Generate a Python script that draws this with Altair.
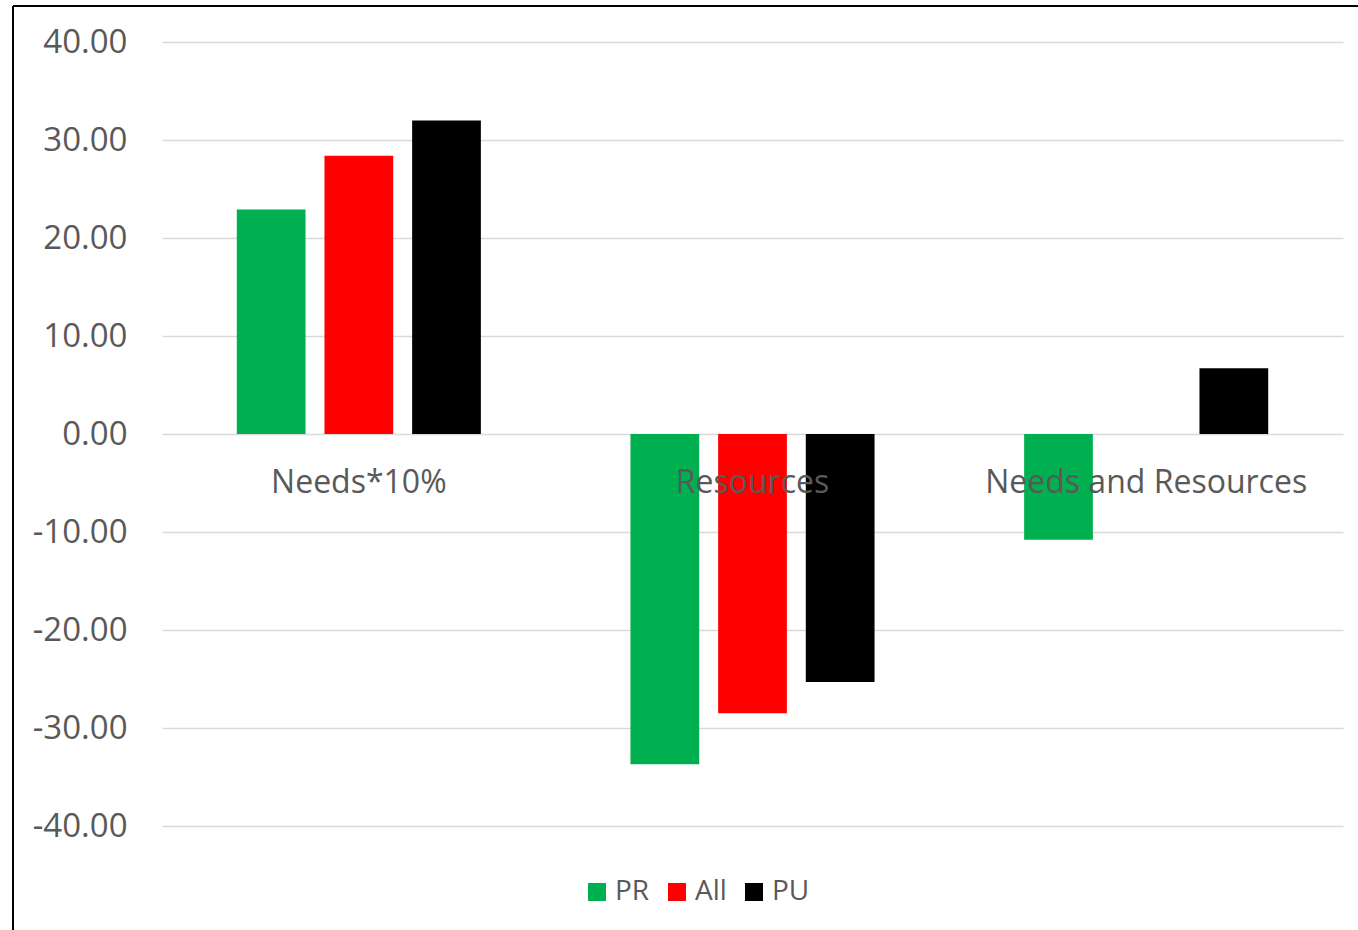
import altair as alt
import pandas as pd

categories = ["Needs*10%", "Resources", "Needs and Resources"]
series = ["PR", "All", "PU"]
colors = ["#00B050", "#FF0000", "#000000"]
pr_values = [22.9, -33.7, -10.8]
all_values = [28.4, -28.5, 0.0]
pu_values = [32.0, -25.3, 6.7]

rows = []
for s, vals in zip(series, [pr_values, all_values, pu_values]):
    for c, v in zip(categories, vals):
        rows.append({"category": c, "series": s, "value": v})
df = pd.DataFrame(rows)
labels_df = pd.DataFrame({"category": categories, "zero": [0.0] * len(categories)})

W, H = 1181, 784
PADL, PADT = 162, 42

x_enc = alt.X("category:N", sort=categories, axis=None,
              scale=alt.Scale(paddingInner=0.38, paddingOuter=0.19))

bars = alt.Chart(df).mark_bar().encode(
    x=x_enc,
    xOffset=alt.XOffset("series:N", sort=series, scale=alt.Scale(paddingInner=0.216)),
    y=alt.Y("value:Q", scale=alt.Scale(domain=[-40, 40]),
            axis=alt.Axis(values=[-40, -30, -20, -10, 0, 10, 20, 30, 40],
                          labelExpr="datum.value < 0 ? '-' + format(abs(datum.value), '.2f') : format(datum.value, '.2f')",
                          title=None, domain=False, ticks=False, labelPadding=35,
                          labelFontSize=33, labelFont="Open Sans", labelColor="#595959",
                          gridColor="#D9D9D9", gridWidth=1.5)),
    color=alt.Color("series:N", sort=series,
                    scale=alt.Scale(domain=series, range=colors),
                    legend=alt.Legend(title=None, orient="none", direction="horizontal",
                                      legendX=421, legendY=836, symbolType="square",
                                      symbolSize=324, symbolStrokeWidth=0,
                                      labelFontSize=28, labelFont="Open Sans",
                                      labelColor="#595959", labelOffset=4,
                                      columnPadding=13)),
)

texts = alt.Chart(labels_df).mark_text(
    fontSize=32, font="Open Sans", color="#595959", dy=49, baseline="middle"
).encode(
    x=x_enc,
    y=alt.Y("zero:Q"),
    text="category:N",
)

border_top = alt.Chart(labels_df).mark_rule(color="#000000", strokeWidth=2).encode(
    x=alt.value(13 - PADL), x2=alt.value(1358 - PADL), y=alt.value(6 - PADT)
)
border_left = alt.Chart(labels_df).mark_rule(color="#000000", strokeWidth=2).encode(
    x=alt.value(13 - PADL), y=alt.value(6 - PADT), y2=alt.value(930 - PADT)
)

chart = alt.layer(bars, texts, border_top, border_left).properties(
    width=W, height=H,
    background="#FFFFFF",
    autosize=alt.AutoSizeParams(type="none"),
    padding={"left": PADL, "top": PADT, "right": 1358 - PADL - W, "bottom": 930 - PADT - H},
).configure_view(stroke=None, strokeWidth=0)

chart.save("out.html", embed_options={"renderer": "svg", "actions": False})
